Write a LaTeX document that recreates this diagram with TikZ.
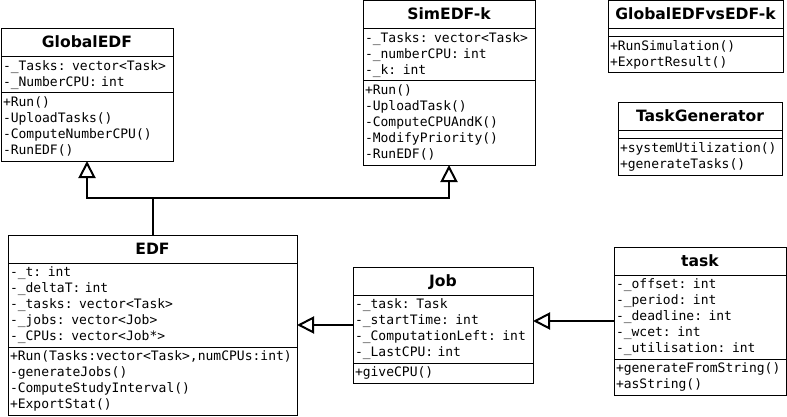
\documentclass[tikz,border=0pt]{standalone}
\usepackage{fontspec}
\usetikzlibrary{shapes.multipart,arrows.meta}
\newfontfamily\titlefont{DejaVu Sans}
\newfontfamily\memberfont{DejaVu Sans Mono}
\newcommand{\classname}[1]{\titlefont\bfseries\fontsize{15.6}{16}\selectfont\makebox[\linewidth][c]{\rule[-7pt]{0pt}{24pt}#1}}
\newcommand{\emptypart}{\rule{0pt}{4pt}}
\begin{document}
\begin{tikzpicture}[
        x=1pt, y=-1pt,
        umlclass/.style={
            draw,
            line width=1pt,
            rectangle split,
            rectangle split parts=3,
            anchor=north west,
            outer sep=0pt,
            inner xsep=2pt,
            inner ysep=1.5pt,
            text width=#1,
            align=left,
            font=\memberfont\fontsize{13}{16}\selectfont
        },
        inherit/.style={
            line width=2pt,
            -{Triangle[open,length=17pt,width=17pt]}
        }
    ]
        \useasboundingbox (0,0) rectangle (787,417);

        % Class boxes
        \node[umlclass=168pt] (ge) at (1,29) {\classname{GlobalEDF}
            \nodepart{two}\strut-\_Tasks: vector<Task>\\
            -\_NumberCPU: int\strut
            \nodepart{three}\strut+Run()\\
            -UploadTasks()\\
            -ComputeNumberCPU()\\
            -RunEDF()\strut};
        \node[umlclass=168pt] (sim) at (363,1) {\classname{SimEDF-k}
            \nodepart{two}\strut-\_Tasks: vector<Task>\\
            -\_numberCPU: int\\
            -\_k: int\strut
            \nodepart{three}\strut+Run()\\
            -UploadTask()\\
            -ComputeCPUAndK()\\
            -ModifyPriority()\\
            -RunEDF()\strut};
        \node[umlclass=171pt] (cmp) at (608,1) {\classname{GlobalEDFvsEDF-k}
            \nodepart{two}\emptypart
            \nodepart{three}\strut+RunSimulation()\\
            +ExportResult()\strut};
        \node[umlclass=160pt] (gen) at (618,103) {\classname{TaskGenerator}
            \nodepart{two}\emptypart
            \nodepart{three}\strut+systemUtilization()\\
            +generateTasks()\strut};
        \node[umlclass=285pt] (edf) at (8,235) {\classname{EDF}
            \nodepart{two}\strut-\_t: int\\
            -\_deltaT: int\\
            -\_tasks: vector<Task>\\
            -\_jobs: vector<Job>\\
            -\_CPUs: vector<Job*>\strut
            \nodepart{three}\strut+Run(Tasks:vector<Task>,numCPUs:int)\\
            -generateJobs()\\
            -ComputeStudyInterval()\\
            +ExportStat()\strut};
        \node[umlclass=176pt] (job) at (353,267) {\classname{Job}
            \nodepart{two}\strut-\_task: Task\\
            -\_startTime: int\\
            -\_ComputationLeft: int\\
            -\_LastCPU: int\strut
            \nodepart{three}\strut+giveCPU()\strut};
        \node[umlclass=168pt] (tsk) at (614,247) {\classname{task}
            \nodepart{two}\strut-\_offset: int\\
            -\_period: int\\
            -\_deadline: int\\
            -\_wcet: int\\
            -\_utilisation: int\strut
            \nodepart{three}\strut+generateFromString()\\
            +asString()\strut};

        % Inheritance arrows
        \coordinate (fork) at (edf.north |- 0,198);
        \draw[line width=2pt] (edf.north) -- (fork);
        \draw[inherit] (fork) -| (ge.south);
        \draw[inherit] (fork) -| (sim.south);
        \draw[inherit] (job.west) -- (job.west -| edf.east);
        \draw[inherit] (tsk.west) -- (tsk.west -| job.east);

    \end{tikzpicture}
\end{document}
